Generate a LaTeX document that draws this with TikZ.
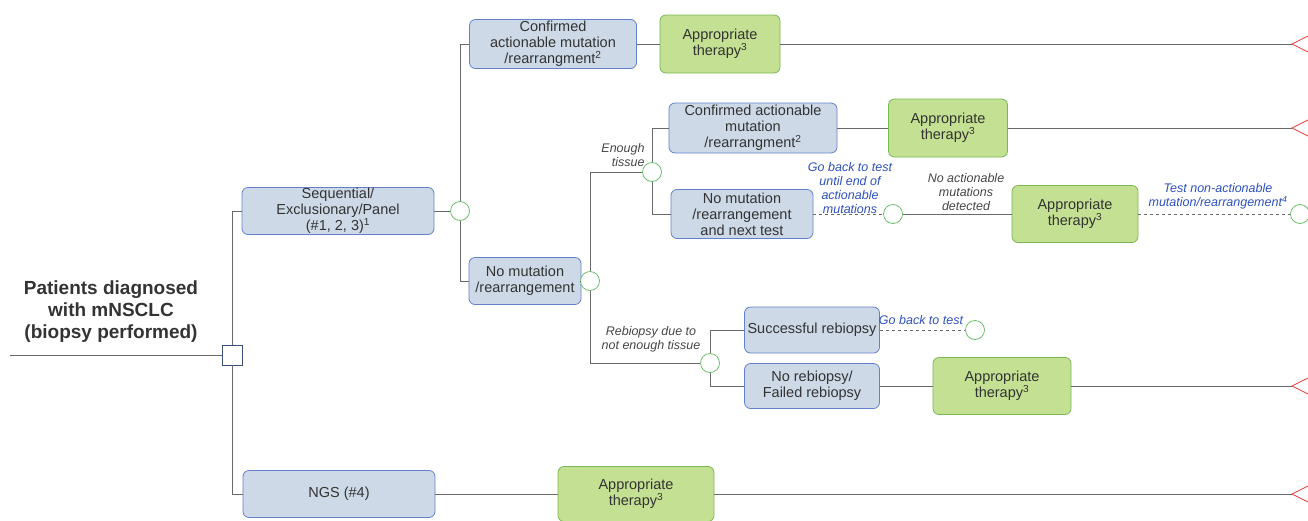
\documentclass[tikz,border=0pt]{standalone}
\usepackage{fontspec}
\setmainfont{Liberation Sans}
\usepackage{xcolor}
\usetikzlibrary{positioning}

\definecolor{testfill}{RGB}{205,217,230}
\definecolor{testline}{RGB}{98,128,204}
\definecolor{therfill}{RGB}{196,224,146}
\definecolor{therline}{RGB}{122,184,84}
\definecolor{chanceline}{RGB}{110,190,110}
\definecolor{linegray}{RGB}{105,105,105}
\definecolor{textgray}{RGB}{51,51,51}
\definecolor{notegray}{RGB}{70,70,70}
\definecolor{noteblue}{RGB}{45,80,190}
\definecolor{endred}{RGB}{228,60,60}

\begin{document}
\begin{tikzpicture}[x=1pt, y=-1pt,
    testbox/.style={draw=testline, fill=testfill, rounded corners=6pt, line width=0.8pt,
        align=center, inner sep=0pt, text=textgray, font=\fontsize{14.5}{16}\selectfont},
    therbox/.style={testbox, draw=therline, fill=therfill},
    chance/.style={circle, draw=chanceline, fill=white, line width=0.8pt,
        minimum size=19pt, inner sep=0pt},
    decision/.style={rectangle, draw=testline!60!black, fill=white, line width=0.8pt,
        minimum size=20pt, inner sep=0pt},
    link/.style={draw=linegray, line width=0.8pt},
    backlink/.style={link, dashed},
    terminal/.style={draw=endred, fill=white, line width=0.8pt},
    note/.style={align=center, text=notegray, font=\fontsize{12.5}{14.3}\selectfont\itshape},
    bluenote/.style={note, text=noteblue}]

        \useasboundingbox (0,0) rectangle (1308,520);

        % Define free ends
        \coordinate (start) at (10,355);
        \coordinate (e1) at (1292,44);    % Top
        \coordinate (e2) at (1292,128);
        \coordinate (e3) at (1292,386);
        \coordinate (e4) at (1292,494);   % Bottom

        % Root and first decision
        \node[text=textgray, align=center, font=\fontsize{19}{22}\selectfont\bfseries] (root) at (111,312)
            {Patients diagnosed\\with mNSCLC\\(biopsy performed)};
        \node[decision] (dec) at (232,355) {};

        % Test boxes
        \node[testbox, minimum width=192pt, minimum height=47pt] (seq) at (338,211)
            {Sequential/\\Exclusionary/Panel\\(\#1, 2, 3)\textsuperscript{1}};
        \node[testbox, minimum width=192pt, minimum height=47pt] (ngs) at (339,494) {NGS (\#4)};
        \node[testbox, minimum width=167pt, minimum height=49pt] (conf1) at (553,44)
            {Confirmed\\actionable mutation\\/rearrangment\textsuperscript{2}};
        \node[testbox, minimum width=112pt, minimum height=47pt] (nomut) at (525,281)
            {No mutation\\/rearrangement};
        \node[testbox, minimum width=168pt, minimum height=50pt] (conf2) at (753,128)
            {Confirmed actionable\\mutation\\/rearrangment\textsuperscript{2}};
        \node[testbox, minimum width=142pt, minimum height=49pt] (nmnext) at (742,214)
            {No mutation\\/rearrangement\\and next test};
        \node[testbox, minimum width=135pt, minimum height=46pt] (succ) at (812,330)
            {Successful rebiopsy};
        \node[testbox, minimum width=135pt, minimum height=45pt] (norebi) at (812,386)
            {No rebiopsy/\\Failed rebiopsy};

        % Therapy boxes
        \node[therbox, minimum width=120pt, minimum height=58pt] (th1) at (720,44)
            {Appropriate\\therapy\textsuperscript{3}};
        \node[therbox, minimum width=119pt, minimum height=58pt] (th2) at (948,128)
            {Appropriate\\therapy\textsuperscript{3}};
        \node[therbox, minimum width=126pt, minimum height=57pt] (th3) at (1075,214)
            {Appropriate\\therapy\textsuperscript{3}};
        \node[therbox, minimum width=138pt, minimum height=57pt] (th4) at (1002,386)
            {Appropriate\\therapy\textsuperscript{3}};
        \node[therbox, minimum width=156pt, minimum height=55pt] (th5) at (636,494)
            {Appropriate\\therapy\textsuperscript{3}};

        % Chance nodes
        \node[chance] (c1) at (460,211) {};
        \node[chance] (c2) at (590,281) {};
        \node[chance] (c3) at (652,172) {};
        \node[chance] (c4) at (893,214) {};
        \node[chance] (c5) at (1300,214) {};
        \node[chance] (c6) at (710,363) {};
        \node[chance] (c7) at (975,330) {};

        % Connectors
        \draw[link] (start) -- (dec.west);
        \draw[link] (dec.north) |- (seq.west);
        \draw[link] (dec.south) |- (ngs.west);
        \draw[link] (seq.east) -- (c1.west);
        \draw[link] (c1.north) |- (conf1.west);
        \draw[link] (c1.south) |- (nomut.west);
        \draw[link] (conf1.east) -- (th1.west);
        \draw[link] (th1.east) -- (e1);
        \draw[link] (nomut.east) -- (c2.west);
        \draw[link] (c2.north) |- (c3.west);
        \draw[link] (c2.south) |- (c6.west);
        \draw[link] (c3.north) |- (conf2.west);
        \draw[link] (c3.south) |- (nmnext.west);
        \draw[link] (conf2.east) -- (th2.west);
        \draw[link] (th2.east) -- (e2);
        \draw[backlink] (nmnext.east) -- (c4.west);
        \draw[link] (c4.east) -- (th3.west);
        \draw[backlink] (th3.east) -- (c5.west);
        \draw[link] (c6.north) |- (succ.west);
        \draw[link] (c6.south) |- (norebi.west);
        \draw[backlink] (succ.east) -- (c7.west);
        \draw[link] (norebi.east) -- (th4.west);
        \draw[link] (th4.east) -- (e3);
        \draw[link] (ngs.east) -- (th5.west);
        \draw[link] (th5.east) -- (e4);

        % Terminal triangles
        \foreach \e in {e1,e2,e3,e4}
            \draw[terminal] (\e) -- ++(18,-9) -- ++(0,18) -- cycle;

        % Branch labels
        \node[note, align=right] (enough) at (623,155) {Enough\\tissue};
        \node[note] (rebilab) at (651,339) {Rebiopsy due to\\not enough tissue};
        \node[note] (noact) at (966,192) {No actionable\\mutations\\detected};
        \node[bluenote] (goback) at (850,188) {Go back to test\\until end of\\actionable\\mutations};
        \node[bluenote] (testnon) at (1218,196) {Test non-actionable\\mutation/rearrangement\textsuperscript{4}};
        \node[bluenote] (gobacktwo) at (921,320) {Go back to test};

    \end{tikzpicture}
\end{document}
